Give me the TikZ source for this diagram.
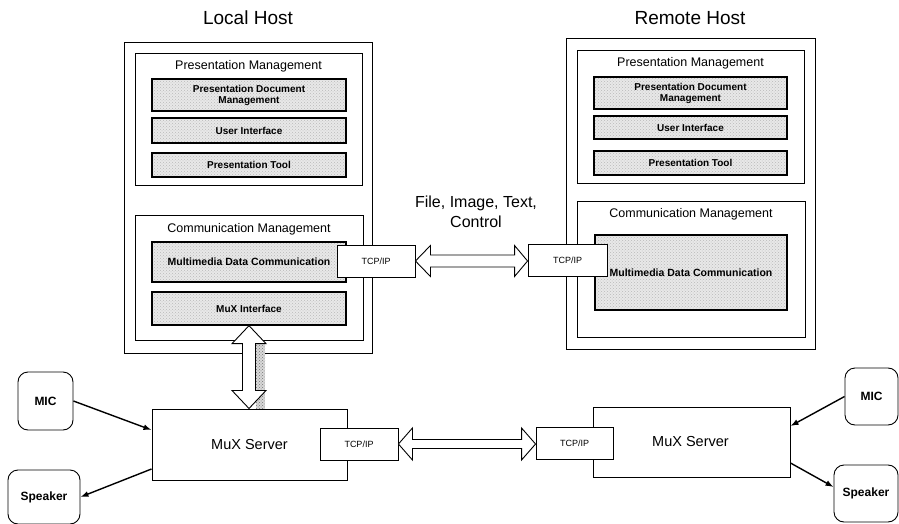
\documentclass[tikz,border=0pt]{standalone}
\usepackage{fontspec}
\setmainfont{Liberation Sans}
\usetikzlibrary{arrows.meta,patterns,calc}
\begin{document}
\begin{tikzpicture}[x=1pt,y=-1pt,
  host/.style={draw,line width=0.9pt,inner sep=0pt},
  mgmt/.style={draw,line width=0.9pt,inner sep=0pt},
  sub/.style={draw,line width=1.3pt,preaction={fill=gray!18},pattern=crosshatch dots,
    pattern color=gray!55,inner sep=0pt,align=center,
    font=\bfseries\fontsize{10}{11}\selectfont},
  ttl/.style={inner sep=0pt,font=\fontsize{12.5}{14}\selectfont},
  hosttitle/.style={inner sep=0pt,font=\fontsize{19}{21}\selectfont},
  tcp/.style={draw,line width=0.9pt,fill=white,inner sep=0pt,
    font=\fontsize{9}{10}\selectfont},
  mux/.style={draw,line width=1pt,inner sep=0pt,font=\fontsize{14.5}{16}\selectfont},
  dev/.style={draw,line width=0.9pt,rounded corners=10pt,inner sep=0pt,
    font=\bfseries\fontsize{12}{14}\selectfont},
  sig/.style={line width=1.4pt,-{Latex[length=8pt,width=6pt]}},
  fat/.style={draw,line width=0.9pt,fill=white,line join=miter}
]
\useasboundingbox (0,0) rectangle (899,524);

% ---------- Local host ----------
\node[hosttitle] (lht) at (248,18) {Local Host};
\node[host,minimum width=248pt,minimum height=311pt] (lhost) at (248,197.5) {};
\node[mgmt,minimum width=227pt,minimum height=132pt] (lpm) at (248.5,119) {};
\node[ttl] (lpmt) at (248.5,66) {Presentation Management};
\node[sub,minimum width=194pt,minimum height=32pt] (lpdm) at (249,95) {Presentation Document\\Management};
\node[sub,minimum width=194pt,minimum height=25pt] (lui) at (249,130.5) {User Interface};
\node[sub,minimum width=194pt,minimum height=24pt] (lpt) at (249,165) {Presentation Tool};
\node[mgmt,minimum width=228pt,minimum height=125pt] (lcm) at (249,277.5) {};
\node[ttl] (lcmt) at (249,229) {Communication Management};
\node[sub,minimum width=194pt,minimum height=40pt,font=\bfseries\fontsize{10.5}{12}\selectfont] (lmdc) at (249,262) {Multimedia Data Communication};
\node[sub,minimum width=194pt,minimum height=33pt] (lmuxi) at (249,308.5) {MuX Interface};
\node[tcp,minimum width=78pt,minimum height=32pt] (ltcp) at (376,261) {TCP/IP};

% ---------- Remote host ----------
\node[hosttitle] (rht) at (690,18) {Remote Host};
\node[host,minimum width=249pt,minimum height=311pt] (rhost) at (690.5,193.5) {};
\node[mgmt,minimum width=227pt,minimum height=133pt] (rpm) at (690.5,116.5) {};
\node[ttl] (rpmt) at (690.5,63) {Presentation Management};
\node[sub,minimum width=193pt,minimum height=32pt] (rpdm) at (690.5,93) {Presentation Document\\Management};
\node[sub,minimum width=193pt,minimum height=23pt] (rui) at (690.5,127.5) {User Interface};
\node[sub,minimum width=193pt,minimum height=24pt] (rpt) at (690.5,163) {Presentation Tool};
\node[mgmt,minimum width=228pt,minimum height=136pt] (rcm) at (691,269) {};
\node[ttl] (rcmt) at (691,214) {Communication Management};
\node[sub,minimum width=192pt,minimum height=75pt,font=\bfseries\fontsize{10.5}{12}\selectfont] (rmdc) at (691,272.5) {Multimedia Data Communication};
\node[tcp,minimum width=79pt,minimum height=32pt] (rtcp) at (567.5,260) {TCP/IP};

% ---------- middle link ----------
\node[inner sep=0pt,align=center,font=\fontsize{16}{20}\selectfont] (data) at (476,212) {File, Image, Text,\\Control};
\draw[fat] let \p1=(ltcp.east), \p2=(rtcp.west) in
  (\x1,\y1) -- (\x1+15,\y1-15.5) -- (\x1+15,\y1-6) -- (\x2-13,\y1-6) -- (\x2-13,\y1-15.5)
  -- (\x2,\y1) -- (\x2-13,\y1+15.5) -- (\x2-13,\y1+6) -- (\x1+15,\y1+6) -- (\x1+15,\y1+15.5) -- cycle;

% ---------- MuX servers ----------
\node[mux,minimum width=195pt,minimum height=71pt] (lmux) at (249.5,444.5) {MuX Server};
\node[tcp,minimum width=78pt,minimum height=32pt] (ltcpb) at (359,444) {TCP/IP};
\node[mux,minimum width=197pt,minimum height=70pt] (rmux) at (691.5,442) {\hspace*{-2pt}MuX Server};
\node[tcp,minimum width=77pt,minimum height=32pt] (rtcpb) at (574.5,443) {TCP/IP};
\draw[fat] let \p1=(ltcpb.east), \p2=(rtcpb.west) in
  (\x1,\y1) -- (\x1+14,\y1-16) -- (\x1+14,\y1-4.5) -- (\x2-14,\y1-4.5) -- (\x2-14,\y1-16)
  -- (\x2,\y1) -- (\x2-14,\y1+16) -- (\x2-14,\y1+4.5) -- (\x1+14,\y1+4.5) -- (\x1+14,\y1+16) -- cycle;

% vertical link with shadow (y values of let are in pt, downward is negative)
\fill[preaction={fill=gray!30},pattern=crosshatch dots,pattern color=gray!90!black] let \p1=(lmuxi.south), \p2=(lmux.north) in
  (\x1+6.5,\y1-17) rectangle (\x1+16,\y2);
\draw[fat] let \p1=(lmuxi.south), \p2=(lmux.north) in
  (\x1,\y1) -- (\x1+17,\y1-18) -- (\x1+6.5,\y1-18) -- (\x1+6.5,\y2+18) -- (\x1+17,\y2+18)
  -- (\x1,\y2) -- (\x1-17,\y2+18) -- (\x1-6.5,\y2+18) -- (\x1-6.5,\y1-18) -- (\x1-17,\y1-18) -- cycle;

% ---------- devices ----------
\node[dev,minimum width=55pt,minimum height=58pt] (lmic) at (45.5,401) {MIC};
\node[dev,minimum width=72pt,minimum height=54pt] (lspk) at (44,497) {Speaker};
\node[dev,minimum width=53pt,minimum height=57pt] (rmic) at (871.5,396.5) {MIC};
\node[dev,minimum width=64pt,minimum height=57pt] (rspk) at (866,493.5) {Speaker};

\coordinate (lmuxin) at ($(lmux.west)+(0,-14.5)$);
\coordinate (lmuxout) at ($(lmux.west)+(0,24.5)$);
\coordinate (rmuxin) at ($(rmux.east)+(0,-16)$);
\coordinate (rmuxout) at ($(rmux.east)+(0,21)$);
\coordinate (rspkin) at ($(rspk.west)+(0,-6.5)$);
\draw[sig] (lmic.east) -- (lmuxin);
\draw[sig] (lmuxout) -- (lspk.east);
\draw[sig] (rmic.west) -- (rmuxin);
\draw[sig] (rmuxout) -- (rspkin);
\end{tikzpicture}
\end{document}
